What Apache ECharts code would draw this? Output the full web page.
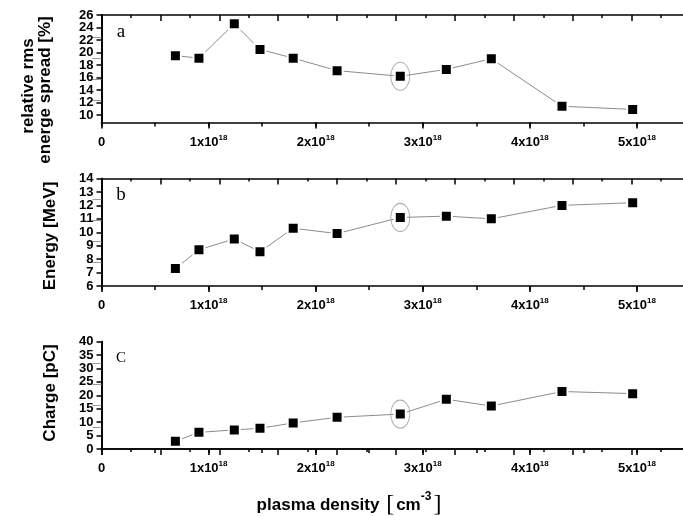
<!DOCTYPE html>
<html>
<head>
<meta charset="utf-8">
<script src="https://cdn.jsdelivr.net/npm/echarts@6/dist/echarts.min.js"></script>
<style>
  html, body { margin: 0; padding: 0; background: #fff; }
  #chart { width: 683px; height: 516px; }
</style>
</head>
<body>
<div id="chart"></div>
<script>
// Plasma density of each shot, cm^-3
const densityValues = [0.69e18, 0.91e18, 1.24e18, 1.48e18, 1.79e18, 2.20e18, 2.79e18, 3.22e18, 3.64e18, 4.30e18, 4.96e18];
// (a) relative rms energy spread, %
const spreadValues = [19.5, 19.1, 24.6, 20.5, 19.1, 17.1, 16.2, 17.3, 19.0, 11.4, 10.9];
// (b) beam energy, MeV
const energyValues = [7.3, 8.7, 9.5, 8.55, 10.3, 9.9, 11.1, 11.2, 11.0, 12.0, 12.2];
// (c) bunch charge, pC
const chargeValues = [2.9, 6.2, 7.1, 7.7, 9.7, 11.8, 13.0, 18.5, 16.0, 21.4, 20.6];
// shot that is circled in every panel
const markedIndex = 6;

// tick labels
const densityTicks = [0, 1e18, 2e18, 3e18, 4e18, 5e18];
const spreadTicks = [10, 12, 14, 16, 18, 20, 22, 24, 26];
const energyTicks = [6, 7, 8, 9, 10, 11, 12, 13, 14];
const chargeTicks = [0, 5, 10, 15, 20, 25, 30, 35, 40];
// inner ticks of the right-hand axes
const spreadRightTicks = [12.4, 15.8, 19.1, 22.4];
const energyRightTicks = [7.8, 9.35, 10.9, 12.45];
const chargeRightTicks = [8.2, 16.2, 24.1, 32];

const panelLetters = ['a', 'b', 'C'];

const SANS = "'Liberation Sans', Arial, sans-serif";
const SERIF = "'Liberation Serif', 'Times New Roman', serif";

const panels = [
  { values: spreadValues, min: 8.8, max: 26, ticks: spreadTicks, right: spreadRightTicks },
  { values: energyValues, min: 6, max: 14, ticks: energyTicks, right: energyRightTicks },
  { values: chargeValues, min: 0, max: 40, ticks: chargeTicks, right: chargeRightTicks }
];
const gridTops = [15, 178.5, 341.5];
const gridHeight = 107.5;
const X_MAX = 5.5e18;

const axisLine = { show: true, lineStyle: { color: '#000', width: 1.7 } };
const yLabelStyle = {
  margin: 8, color: '#000', fontFamily: SANS, fontWeight: 'bold', fontSize: 13,
  hideOverlap: false, showMinLabel: true, showMaxLabel: true
};

const grids = [], xAxes = [], yAxes = [], series = [], graphics = [];

panels.forEach((p, i) => {
  grids.push({ left: 101.5, right: -7.5, top: gridTops[i], height: gridHeight, outerBoundsMode: 'none' });

  // bottom axis: labels and major ticks
  xAxes.push({
    gridIndex: i, type: 'value', position: 'bottom', min: 0, max: X_MAX, interval: 0.5e18,
    axisLine: axisLine,
    axisTick: { show: true, customValues: densityTicks, length: 6, lineStyle: { color: '#000', width: 1.6 } },
    splitLine: { show: false },
    axisLabel: {
      customValues: densityTicks, margin: 11, color: '#000', hideOverlap: false,
      showMinLabel: true, showMaxLabel: true,
      formatter: v => v === 0 ? '{m|0}' : '{m|' + Math.round(v / 1e18) + 'x10}{s|18}',
      rich: {
        m: { fontFamily: SANS, fontWeight: 'bold', fontSize: 13, lineHeight: 15, verticalAlign: 'bottom', color: '#000' },
        s: { fontFamily: SANS, fontWeight: 'bold', fontSize: 8, lineHeight: 15, verticalAlign: 'top', color: '#000' }
      }
    }
  });
  // bottom axis: half-step ticks
  xAxes.push({
    gridIndex: i, type: 'value', position: 'bottom', min: 0, max: X_MAX, interval: 0.5e18,
    axisLine: { show: false },
    axisTick: { show: true, length: 4, lineStyle: { color: '#000', width: 1.5 } },
    splitLine: { show: false }, axisLabel: { show: false }
  });
  // top axis with inward ticks
  xAxes.push({
    gridIndex: i, type: 'value', position: 'top', min: 0, max: 10, interval: 1,
    axisLine: axisLine,
    axisTick: { show: true, inside: true, length: 6, lineStyle: { color: '#000', width: 1.5 } },
    minorTick: { show: true, splitNumber: 2, length: 3, lineStyle: { color: '#000', width: 1.5 } },
    splitLine: { show: false }, axisLabel: { show: false }
  });

  // left axis: line, ticks and every other label; the other labels sit on a twin axis
  // so that closely stacked numbers are all kept
  const evenLabels = p.ticks.filter((_, k) => k % 2 === 0);
  const oddLabels = p.ticks.filter((_, k) => k % 2 === 1);
  yAxes.push({
    gridIndex: i, type: 'value', position: 'left', min: p.min, max: p.max,
    axisLine: axisLine,
    axisTick: { show: true, customValues: p.ticks, length: 5, lineStyle: { color: '#000', width: 1.5 } },
    splitLine: { show: false },
    axisLabel: Object.assign({ customValues: evenLabels }, yLabelStyle)
  });
  yAxes.push({
    gridIndex: i, type: 'value', position: 'left', min: p.min, max: p.max,
    axisLine: { show: false }, axisTick: { show: false }, splitLine: { show: false },
    axisLabel: Object.assign({ customValues: oddLabels }, yLabelStyle)
  });
  yAxes.push({
    gridIndex: i, type: 'value', position: 'right', min: p.min, max: p.max,
    axisLine: axisLine,
    axisTick: { show: true, inside: true, customValues: p.right, length: 9, lineStyle: { color: '#999', width: 1 } },
    splitLine: { show: false }, axisLabel: { show: false }
  });

  series.push({
    type: 'line', xAxisIndex: i * 3, yAxisIndex: i * 3,
    data: densityValues.map((x, k) => [x, p.values[k]]),
    symbol: 'rect', symbolSize: 11,
    itemStyle: { color: '#000', borderColor: '#fff', borderWidth: 2 },
    lineStyle: { color: '#8c8c8c', width: 1 },
    z: 3
  });
  series.push({
    type: 'scatter', xAxisIndex: i * 3, yAxisIndex: i * 3,
    data: [[densityValues[markedIndex], p.values[markedIndex]]],
    symbol: 'path://M0,14 A9.5,14 0 1,1 19,14 A9.5,14 0 1,1 0,14 Z',
    symbolSize: [19, 28],
    itemStyle: { color: 'rgba(0,0,0,0)', borderColor: '#9a9a9a', borderWidth: 1 },
    silent: true, z: 2
  });

  graphics.push({
    type: 'text', x: 121, y: gridTops[i] + 17,
    style: { text: panelLetters[i], font: (i === 2 ? '15px ' : '19px ') + SERIF, fill: '#000', align: 'center', verticalAlign: 'middle' }
  });
});

// axis titles
const titleFont = 'bold 17px ' + SANS;
graphics.push(
  { type: 'text', x: 28, y: 86, rotation: Math.PI / 2,
    style: { text: 'relative rms', font: titleFont, fill: '#000', align: 'center', verticalAlign: 'middle' } },
  { type: 'text', x: 45, y: 90, rotation: Math.PI / 2,
    style: { text: 'energe spread [%]', font: titleFont, fill: '#000', align: 'center', verticalAlign: 'middle' } },
  { type: 'text', x: 50, y: 236, rotation: Math.PI / 2,
    style: { text: 'Energy [MeV]', font: titleFont, fill: '#000', align: 'center', verticalAlign: 'middle' } },
  { type: 'text', x: 50, y: 393, rotation: Math.PI / 2,
    style: { text: 'Charge [pC]', font: titleFont, fill: '#000', align: 'center', verticalAlign: 'middle' } },
  { type: 'text', x: 350, y: 504,
    style: {
      text: '{t|plasma density }{br|[}{t|cm}{s|-3}{br|]}',
      align: 'center', verticalAlign: 'middle',
      rich: {
        t: { font: 'bold 17px ' + SANS, fill: '#000', lineHeight: 26, verticalAlign: 'bottom', padding: [0, 0, 3, 0] },
        s: { font: 'bold 12px ' + SANS, fill: '#000', lineHeight: 26, verticalAlign: 'top' },
        br: { font: '24px ' + SERIF, fill: '#000', lineHeight: 26, verticalAlign: 'bottom', padding: [0, 2, 0, 2] }
      }
    } }
);

const chart = echarts.init(document.getElementById('chart'), null, { renderer: 'canvas' });
chart.setOption({
  animation: false,
  backgroundColor: '#fff',
  grid: grids,
  xAxis: xAxes,
  yAxis: yAxes,
  series: series,
  graphic: graphics
});
</script>
</body>
</html>
